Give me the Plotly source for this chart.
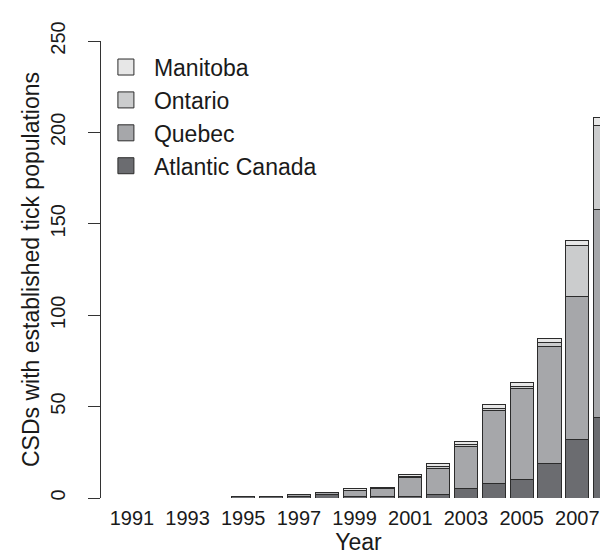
import plotly.graph_objects as go

years = list(range(1991, 2009))
atlantic = [0, 0, 0, 0, 1, 1, 1, 2, 1, 1, 1, 2, 5, 8, 10, 19, 32, 44]
quebec = [0, 0, 0, 0, 0, 0, 1, 1, 3, 4, 10, 14, 23, 40, 50, 64, 78, 114]
ontario = [0, 0, 0, 0, 0, 0, 0, 0, 0, 0, 1, 1, 1, 1, 1, 2, 28, 46]
manitoba = [0, 0, 0, 0, 0, 0, 0, 0, 1, 1, 1, 2, 2, 2, 2, 2, 3, 4]

x_tick_vals = [1991, 1993, 1995, 1997, 1999, 2001, 2003, 2005, 2007]
x_tick_text = [str(v) for v in x_tick_vals]
y_tick_vals = [0, 50, 100, 150, 200, 250]

series = [
    ("Atlantic Canada", atlantic, "#6b6c70"),
    ("Quebec", quebec, "#a6a7aa"),
    ("Ontario", ontario, "#cbcccd"),
    ("Manitoba", manitoba, "#e7e7e7"),
]

FONT = "Liberation Sans, Arial, Helvetica, sans-serif"
INK = "#1a1a1a"
EDGE = "#2b2b2b"

fig = go.Figure()
for name, vals, col in series:
    fig.add_trace(go.Bar(
        x=years, y=vals, name=name, showlegend=False,
        marker=dict(color=col, line=dict(color=EDGE, width=1)),
    ))
# legend entries with larger square keys
for name, vals, col in series:
    fig.add_trace(go.Scatter(
        x=[None], y=[None], name=name, mode="markers",
        marker=dict(symbol="square", size=16, color=col, line=dict(color=EDGE, width=1)),
    ))

fig.update_layout(
    barmode="stack",
    bargap=0.167,
    width=608, height=556,
    margin=dict(l=93, r=0, t=33, b=66),
    plot_bgcolor="white", paper_bgcolor="white",
    font=dict(family=FONT, color=INK, size=20),
    showlegend=True,
    legend=dict(
        x=-0.006, y=0.99, xanchor="left", yanchor="top",
        traceorder="reversed",
        itemwidth=46,
        font=dict(size=23, family=FONT, color=INK),
        bgcolor="rgba(0,0,0,0)",
    ),
    xaxis=dict(
        range=[1989.89, 2008.39],
        tickvals=x_tick_vals, ticktext=x_tick_text,
        ticks="", showline=False, showgrid=False, zeroline=False,
        tickfont=dict(size=20),
        ticklabelstandoff=6,
        title=dict(text="Year", font=dict(size=23), standoff=3),
    ),
    yaxis=dict(
        range=[0, 250],
        tickvals=y_tick_vals,
        ticks="outside", ticklen=12, tickcolor="#333", tickwidth=1,
        showline=True, linecolor="#333", linewidth=1,
        showgrid=False, zeroline=False,
        tickangle=-90,
        tickfont=dict(size=20),
        ticklabelstandoff=15,
        title=dict(text="CSDs with established tick populations", font=dict(size=23), standoff=0),
    ),
)

fig.write_html("out.html")
